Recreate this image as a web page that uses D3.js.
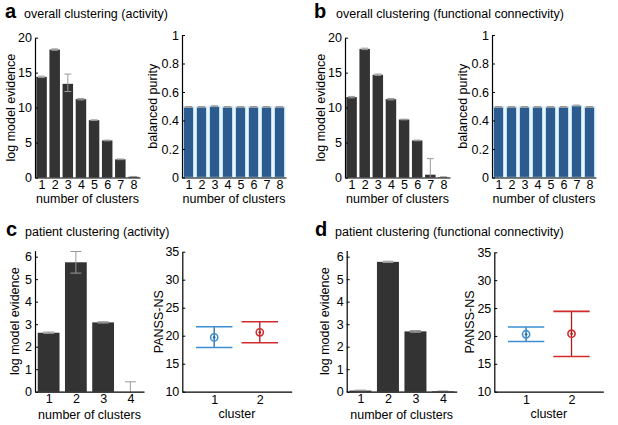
<!DOCTYPE html>
<html><head><meta charset="utf-8">
<script src="https://cdn.jsdelivr.net/npm/d3@7"></script>
<style>
body{margin:0;background:#fff;}
svg{display:block;font-family:"Liberation Sans",Arial,Helvetica,sans-serif;}
</style></head>
<body><svg id="c" width="618" height="425"></svg>
<script>
// ---------- data ----------
const clusters8 = [1,2,3,4,5,6,7,8];
const clusters4 = [1,2,3,4];
const evidenceAct = [14.4, 18.3, 13.4, 11.2, 8.2, 5.3, 2.6, 0.1];
const evidenceActLo = [0.1, 0.1, 1.1, 0.1, 0.05, 0.05, 0.05, 0.05];
const evidenceActHi = [0.1, 0.1, 1.4, 0.1, 0.05, 0.05, 0.05, 0.05];
const purityAct = [0.495, 0.495, 0.5, 0.495, 0.495, 0.495, 0.495, 0.495];
const evidenceFC = [11.5, 18.4, 14.7, 11.2, 8.3, 5.3, 0.4, 0.05];
const evidenceFCLo = [0.1, 0.1, 0.1, 0.1, 0.05, 0.05, 0.4, 0.05];
const evidenceFCHi = [0.1, 0.1, 0.1, 0.1, 0.05, 0.05, 2.3, 0.05];
const purityFC = [0.495, 0.495, 0.495, 0.495, 0.495, 0.495, 0.505, 0.495];
const patEvidenceAct = [2.62, 5.75, 3.08, 0];
const patEvidenceActErr = [0.03, 0.48, 0.03, 0.44];
const patEvidenceFC = [0.05, 5.77, 2.68, 0.02];
const patEvidenceFCErr = [0.02, 0.03, 0.04, 0.01];
const clusterIds = [1, 2];
const panssActMean = [19.7, 20.6];
const panssActLo = [17.9, 18.75];
const panssActHi = [21.6, 22.5];
const panssFCMean = [20.3, 20.4];
const panssFCLo = [19.0, 16.3];
const panssFCHi = [21.6, 24.4];
const ticksEvid20 = [0,5,10,15,20];
const ticksPurity = [0,0.2,0.4,0.6,0.8,1];
const ticksEvid6 = [0,1,2,3,4,5,6];
const ticksPanss = [10,15,20,25,30,35];
const clusterColors = ["#3b8fd2", "#d22b2b"];
const clusterDark = ["#2a6aa3", "#a81f1f"];

const svg = d3.select("#c");
const FS = 12.5;

function axes(g, x, y, xTicks, yTicks, yFmt, xLabel, yLabel, yLabelX, xLabelY, xPad) {
  const [x0, x1] = x.range();
  const [yb, yt] = y.range();
  const ya = g.append("g").attr("transform", `translate(${x0},0)`)
    .call(d3.axisLeft(y).tickValues(yTicks).tickSize(-3).tickSizeOuter(0).tickPadding(3).tickFormat(yFmt));
  const xa = g.append("g").attr("transform", `translate(0,${yb})`)
    .call(d3.axisBottom(x).tickValues(xTicks).tickSize(0).tickSizeOuter(0).tickPadding(xPad).tickFormat(d3.format("d")));
  [ya, xa].forEach(a => {
    a.select(".domain").attr("stroke", "#000").attr("stroke-width", 1.2);
    a.selectAll("text").attr("font-size", FS).attr("fill", "#000").attr("font-family", "Liberation Sans, Arial, sans-serif");
    a.selectAll("line").attr("stroke", "#000");
  });
  g.append("text").attr("x", (x0 + x1) / 2).attr("y", xLabelY).attr("text-anchor", "middle")
    .attr("font-size", FS).text(xLabel);
  g.append("text").attr("transform", `translate(${yLabelX},${(yb + yt) / 2}) rotate(-90)`)
    .attr("text-anchor", "middle").attr("font-size", FS).text(yLabel);
}

function barChart(opt) {
  const g = svg.append("g");
  const x = d3.scaleLinear().domain([0.5, opt.cats.length + 0.5]).range([opt.x0, opt.x1]);
  const y = d3.scaleLinear().domain([0, opt.ymax]).range([opt.yb, opt.yt]);
  const w = x(1.4) - x(0.6);
  g.selectAll("rect.bar").data(opt.cats).join("rect").attr("class", "bar")
    .attr("x", (d) => x(d) - w / 2)
    .attr("width", w)
    .attr("y", (d, i) => y(opt.vals[i]))
    .attr("height", (d, i) => Math.max(0, opt.yb - y(opt.vals[i])))
    .attr("fill", opt.fill)
    .attr("stroke", opt.stroke || "none").attr("stroke-width", opt.stroke ? 1.3 : 0);
  if (opt.lo) {
    const cap = opt.cap;
    opt.cats.forEach((d, i) => {
      const top = y(opt.vals[i] + opt.hi[i]);
      const bot = y(Math.max(0, opt.vals[i] - opt.lo[i]));
      const eg = g.append("g").attr("stroke", opt.errColor).attr("stroke-width", 1);
      eg.append("line").attr("x1", x(d)).attr("x2", x(d)).attr("y1", top).attr("y2", bot);
      eg.append("line").attr("x1", x(d) - cap).attr("x2", x(d) + cap).attr("y1", top).attr("y2", top);
      if (opt.vals[i] - opt.lo[i] > 0)
        eg.append("line").attr("x1", x(d) - cap).attr("x2", x(d) + cap).attr("y1", bot).attr("y2", bot);
    });
  }
  axes(g, x, y, opt.cats, opt.yTicks, opt.yFmt, "number of clusters", opt.yLabel, opt.yLabelX, opt.xLabelY, opt.xPad);
}

function errChart(opt) {
  const g = svg.append("g");
  const x = d3.scaleLinear().domain([0.3, 2.7]).range([opt.x0, opt.x1]);
  const y = d3.scaleLinear().domain([10, 35]).range([opt.yb, opt.yt]);
  const cap = x(1.4) - x(1);
  clusterIds.forEach((c, i) => {
    const cx = x(c), yt = y(opt.hi[i]), ybm = y(opt.lo[i]), ym = y(opt.mean[i]);
    g.append("line").attr("x1", cx).attr("x2", cx).attr("y1", yt).attr("y2", ybm)
      .attr("stroke", clusterDark[i]).attr("stroke-width", 1.3);
    [yt, ybm].forEach(yy => g.append("line").attr("x1", cx - cap).attr("x2", cx + cap)
      .attr("y1", yy).attr("y2", yy).attr("stroke", clusterColors[i]).attr("stroke-width", 1.6));
    g.append("circle").attr("cx", cx).attr("cy", ym).attr("r", 3.6).attr("fill", "none")
      .attr("stroke", clusterColors[i]).attr("stroke-width", 1.6);
    g.append("circle").attr("cx", cx).attr("cy", ym).attr("r", 1.3).attr("fill", clusterDark[i]);
  });
  axes(g, x, y, clusterIds, ticksPanss, d3.format("d"), "cluster", "PANSS-NS", opt.yLabelX, opt.xLabelY, 3);
}

function title(letter, text, lx, tx, by) {
  svg.append("text").attr("x", lx).attr("y", by).attr("font-size", 20).attr("font-weight", "bold").text(letter);
  svg.append("text").attr("x", tx).attr("y", by).attr("font-size", 12.5).text(text);
}

const dark = "#333333", errGray = "#9a9a9a", blueFill = "#2c5b8f", blueEdge = "#c6e4f3";

title("a", "overall clustering (activity)", 5, 24, 18);
title("b", "overall clustering (functional connectivity)", 314, 336, 18);
title("c", "patient clustering (activity)", 6, 25, 236);
title("d", "patient clustering (functional connectivity)", 315, 335, 236);

barChart({cats: clusters8, vals: evidenceAct, lo: evidenceActLo, hi: evidenceActHi, ymax: 20,
  x0: 35, x1: 140, yb: 177.5, yt: 37.7, fill: dark, errColor: errGray, cap: 3.5, xPad: 3,
  yTicks: ticksEvid20, yFmt: d3.format("d"), yLabel: "log model evidence", yLabelX: 15, xLabelY: 203});
barChart({cats: clusters8, vals: purityAct, lo: purityAct.map(() => 0.003), hi: purityAct.map(() => 0.003), ymax: 1,
  x0: 182, x1: 286, yb: 177.5, yt: 35, fill: blueFill, stroke: blueEdge, errColor: errGray, cap: 3.5, xPad: 3,
  yTicks: ticksPurity, yFmt: d3.format("~g"), yLabel: "balanced purity", yLabelX: 157, xLabelY: 203});
barChart({cats: clusters8, vals: evidenceFC, lo: evidenceFCLo, hi: evidenceFCHi, ymax: 20,
  x0: 345, x1: 450, yb: 177.5, yt: 37.7, fill: dark, errColor: errGray, cap: 3.5, xPad: 3,
  yTicks: ticksEvid20, yFmt: d3.format("d"), yLabel: "log model evidence", yLabelX: 325, xLabelY: 203});
barChart({cats: clusters8, vals: purityFC, lo: purityFC.map(() => 0.003), hi: purityFC.map(() => 0.003), ymax: 1,
  x0: 492, x1: 596, yb: 177.5, yt: 35, fill: blueFill, stroke: blueEdge, errColor: errGray, cap: 3.5, xPad: 3,
  yTicks: ticksPurity, yFmt: d3.format("~g"), yLabel: "balanced purity", yLabelX: 467, xLabelY: 203});

barChart({cats: clusters4, vals: patEvidenceAct, lo: patEvidenceActErr, hi: patEvidenceActErr, ymax: 6.27,
  x0: 35, x1: 144, yb: 391.7, yt: 250.6, fill: dark, errColor: errGray, cap: 5.5, xPad: 2.5,
  yTicks: ticksEvid6, yFmt: d3.format("d"), yLabel: "log model evidence", yLabelX: 19, xLabelY: 419});
errChart({mean: panssActMean, lo: panssActLo, hi: panssActHi,
  x0: 182.3, x1: 291.7, yb: 391.7, yt: 251.7, yLabelX: 163, xLabelY: 418});
barChart({cats: clusters4, vals: patEvidenceFC, lo: patEvidenceFCErr, hi: patEvidenceFCErr, ymax: 6.27,
  x0: 346.7, x1: 456.7, yb: 391.7, yt: 250.6, fill: dark, errColor: errGray, cap: 5.5, xPad: 2.5,
  yTicks: ticksEvid6, yFmt: d3.format("d"), yLabel: "log model evidence", yLabelX: 329, xLabelY: 419});
errChart({mean: panssFCMean, lo: panssFCLo, hi: panssFCHi,
  x0: 494.3, x1: 603.3, yb: 391.7, yt: 252.3, yLabelX: 474, xLabelY: 418});
</script></body></html>
